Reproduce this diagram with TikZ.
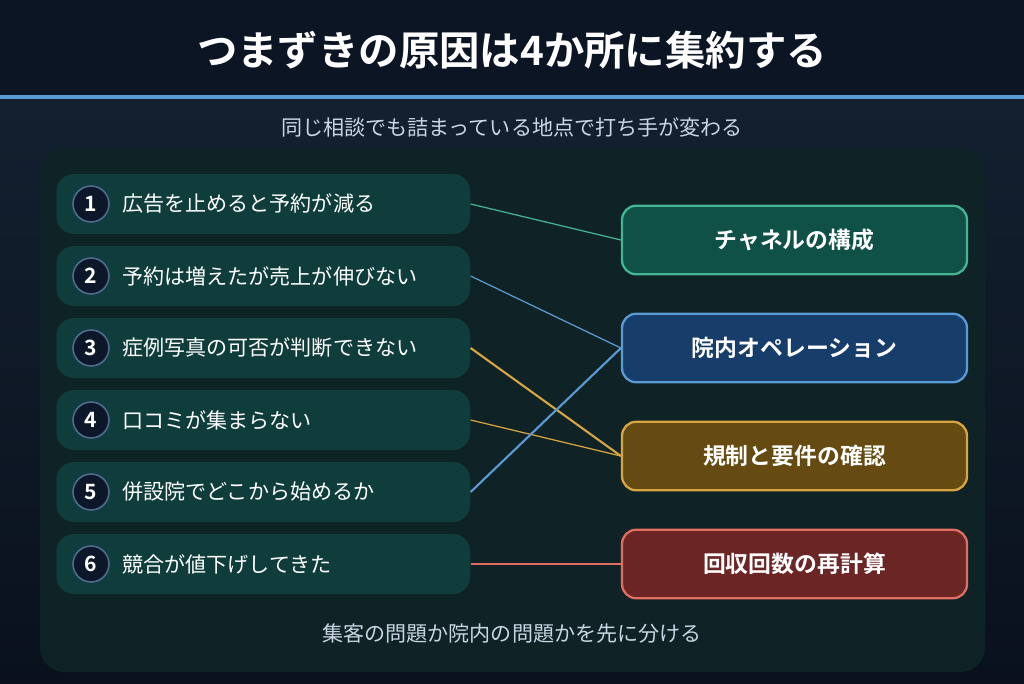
\documentclass[tikz,border=0pt]{standalone}
\usepackage{fontspec}
\setmainfont{Noto Sans CJK JP}[BoldFont={Noto Sans CJK JP Bold}]
\usepackage{tikz}
\usepackage{xcolor}

\definecolor{headbg}{HTML}{0B1524}
\definecolor{accent}{HTML}{5B9BD5}
\definecolor{bgtop}{HTML}{13202F}
\definecolor{bgbot}{HTML}{0A111D}
\definecolor{panel}{HTML}{0F2326}
\definecolor{itembg}{HTML}{0F3D3B}
\definecolor{numbg}{HTML}{0C1829}
\definecolor{numline}{HTML}{4F6C8C}
\definecolor{softtext}{HTML}{C9D5E2}
\definecolor{chfill}{HTML}{0F5147}\definecolor{chline}{HTML}{43B592}
\definecolor{opfill}{HTML}{173D6B}\definecolor{opline}{HTML}{5B9BD5}
\definecolor{rgfill}{HTML}{654A12}\definecolor{rgline}{HTML}{D9A542}
\definecolor{rcfill}{HTML}{6B2525}\definecolor{rcline}{HTML}{DF6E60}

\tikzset{
  item/.style={fill=itembg,rounded corners=10pt,minimum width=8.28cm,minimum height=1.2cm,anchor=west},
  num/.style={circle,fill=numbg,draw=numline,line width=0.9pt,minimum size=0.72cm,inner sep=0pt,text=white,font=\bfseries\fontsize{12}{14}\selectfont},
  itemtext/.style={anchor=west,text=white,font=\fontsize{12}{14}\selectfont},
  cause/.style={rounded corners=8pt,line width=1.3pt,minimum width=6.9cm,minimum height=1.37cm,text=white,font=\bfseries\fontsize{13}{15}\selectfont},
  thin/.style={line width=0.7pt},
  thick/.style={line width=1.2pt}
}

\begin{document}
\begin{tikzpicture}[x=0.02cm,y=-0.02cm]
  \useasboundingbox (0,0) rectangle (1024,683);
  \fill[headbg] (0,0) rectangle (1024,95);
  \shade[top color=bgtop,bottom color=bgbot] (0,99) rectangle (1024,683);
  \fill[accent] (0,95) rectangle (1024,99);
  \node[text=white,font=\bfseries\fontsize{23}{27}\selectfont] (title) at (512,50) {つまずきの原因は4か所に集約する};
  \node[text=softtext,font=\fontsize{12}{14}\selectfont] (subtitle) at (512,127) {同じ相談でも詰まっている地点で打ち手が変わる};
  \fill[panel,rounded corners=14pt] (40,148) rectangle (985,672);

  % symptoms
  \node[item] (l1) at (56,204) {}; \node[num] (n1) at (91,204) {1}; \node[itemtext] (t1) at (116,204) {広告を止めると予約が減る};
  \node[item] (l2) at (56,276) {}; \node[num] (n2) at (91,276) {2}; \node[itemtext] (t2) at (116,276) {予約は増えたが売上が伸びない};
  \node[item] (l3) at (56,348) {}; \node[num] (n3) at (91,348) {3}; \node[itemtext] (t3) at (116,348) {症例写真の可否が判断できない};
  \node[item] (l4) at (56,420) {}; \node[num] (n4) at (91,420) {4}; \node[itemtext] (t4) at (116,420) {口コミが集まらない};
  \node[item] (l5) at (56,492) {}; \node[num] (n5) at (91,492) {5}; \node[itemtext] (t5) at (116,492) {併設院でどこから始めるか};
  \node[item] (l6) at (56,564) {}; \node[num] (n6) at (91,564) {6}; \node[itemtext] (t6) at (116,564) {競合が値下げしてきた};

  % causes
  \node[cause,fill=chfill,draw=chline] (channel) at (794.5,240) {チャネルの構成};
  \node[cause,fill=opfill,draw=opline] (ops) at (794.5,348) {院内オペレーション};
  \node[cause,fill=rgfill,draw=rgline] (rules) at (794.5,456) {規制と要件の確認};
  \node[cause,fill=rcfill,draw=rcline] (recoup) at (794.5,564) {回収回数の再計算};

  \draw[thin,chline] (l1.east) -- (channel.west);
  \draw[thin,opline] (l2.east) -- (ops.west);
  \draw[thick,rgline] (l3.east) -- (rules.west);
  \draw[thin,rgline] (l4.east) -- (rules.west);
  \draw[thick,opline] (l5.east) -- (ops.west);
  \draw[thick,rcline] (l6.east) -- (recoup.west);

  \node[text=softtext,font=\fontsize{12}{14}\selectfont] (footer) at (512,634) {集客の問題か院内の問題かを先に分ける};
\end{tikzpicture}
\end{document}
